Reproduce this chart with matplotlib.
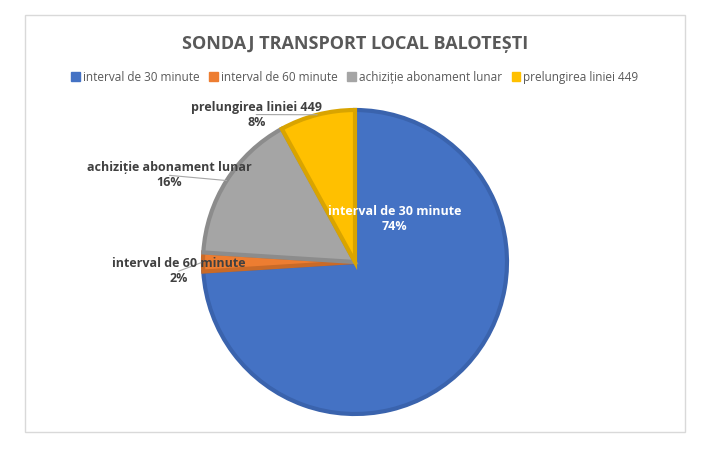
import numpy as np
import matplotlib.pyplot as plt

labels = ["interval de 30 minute", "interval de 60 minute",
          "achiziție abonament lunar", "prelungirea liniei 449"]
values = [74, 2, 16, 8]
colors = ["#4472C4", "#ED7D31", "#A5A5A5", "#FFC000"]
edges = ["#3A63AD", "#C96A28", "#8C8C8C", "#D9A400"]

plt.rcParams['font.family'] = ['Open Sans', 'DejaVu Sans']
fig = plt.figure(figsize=(7.18, 4.55), dpi=100)
fig.patch.set_facecolor("white")
fig.add_artist(plt.Rectangle((25/718, 1-432/455), 660/718, 417/455, fill=False,
                             edgecolor="#D9D9D9", lw=1, transform=fig.transFigure))

fig.text(355/718, 1-44/455, "SONDAJ TRANSPORT LOCAL BALOTEȘTI", ha="center",
         va="center", fontsize=13, fontweight="bold", color="#595959")

h = 304/455
ax = fig.add_axes([355/718 - h*455/718/2, 1-262/455 - h/2, h*455/718, h])
wedges, _ = ax.pie(values, colors=colors, startangle=90, counterclock=False,
                   wedgeprops=dict(linewidth=3))
for w, e in zip(wedges, edges):
    w.set_edgecolor(e)
ax.set_aspect("equal")
ax.set_xlim(-1, 1)
ax.set_ylim(-1, 1)

# inside label for first slice
ax.text(0.26, 0.28, f"{labels[0]}\n{values[0]}%", ha="center", va="center",
        color="white", fontsize=9, fontweight="bold")

# outside labels with leader lines
outs = {1: (-1.16, -0.06), 2: (-1.22, 0.57), 3: (-0.65, 0.97)}
for i, (tx, ty) in outs.items():
    w = wedges[i]
    ang = np.deg2rad((w.theta1 + w.theta2) / 2)
    px, py = np.cos(ang), np.sin(ang)
    ax.annotate(f"{labels[i]}\n{values[i]}%", xy=(px, py), xytext=(tx, ty),
                ha="center", va="center", fontsize=9, fontweight="bold",
                color="#404040", annotation_clip=False,
                arrowprops=dict(arrowstyle="-", color="#A6A6A6", lw=0.8,
                                shrinkA=0, shrinkB=0))

handles = [plt.Rectangle((0, 0), 1, 1, color=c) for c in colors]
fig.legend(handles, labels, loc="center", bbox_to_anchor=(355/718, 1-77/455),
           ncol=4, frameon=False, fontsize=8.5, handlelength=0.7,
           handleheight=0.7, columnspacing=0.8, handletextpad=0.3,
           labelcolor="#595959")

fig.savefig("out.png", dpi=100)
